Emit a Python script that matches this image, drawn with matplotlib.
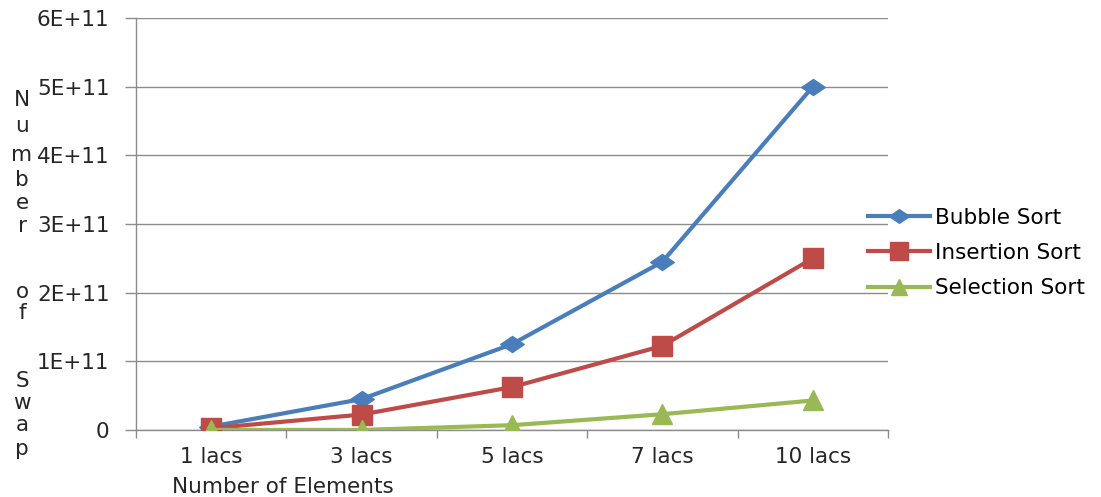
import matplotlib
matplotlib.use("Agg")
import matplotlib.pyplot as plt
from matplotlib.path import Path
from matplotlib.ticker import FuncFormatter, FixedLocator

# Swap counts for each sorting algorithm
categories = ["1 lacs", "3 lacs", "5 lacs", "7 lacs", "10 lacs"]
bubble_sort = [5.0e9, 4.5e10, 1.25e11, 2.45e11, 5.0e11]
insertion_sort = [2.5e9, 2.25e10, 6.25e10, 1.225e11, 2.5e11]
selection_sort = [1.0e8, 1.0e8, 7.0e9, 2.3e10, 4.3e10]
y_ticks = [0, 1e11, 2e11, 3e11, 4e11, 5e11, 6e11]

plt.rcParams["font.family"] = ["DejaVu Sans"]
FS = 15.5
TXT = "#262626"
GRID = "#8c8c8c"

fig = plt.figure(figsize=(11.01, 4.97), dpi=100)
ax = fig.add_axes([136 / 1101, 1 - 430 / 497, 752 / 1101, 412 / 497])

# a slightly flattened diamond marker
wide_diamond = Path([(-1, 0), (0, 0.68), (1, 0), (0, -0.68), (-1, 0)],
                    [Path.MOVETO, Path.LINETO, Path.LINETO, Path.LINETO, Path.CLOSEPOLY])

x = list(range(len(categories)))
blue, red, green = "#4A7EBB", "#BE4B48", "#98B954"
ax.plot(x, bubble_sort, color=blue, lw=3, marker=wide_diamond, ms=17,
        label="Bubble Sort", zorder=3)
ax.plot(x, insertion_sort, color=red, lw=3, marker="s", ms=14.5,
        label="Insertion Sort", zorder=3)
ax.plot(x, selection_sort, color=green, lw=3, marker="^", ms=14,
        label="Selection Sort", zorder=4)

ax.set_xlim(-0.5, len(categories) - 0.5)
ax.set_ylim(0, 6e11)
ax.set_xticks(x)
ax.set_xticklabels(categories)
ax.xaxis.set_minor_locator(FixedLocator([i - 0.5 for i in range(len(categories) + 1)]))
ax.tick_params(axis="x", which="major", length=0, pad=12, labelsize=FS, colors=TXT)
ax.tick_params(axis="x", which="minor", length=6, width=1, color=GRID, direction="out")

ax.set_yticks(y_ticks)
ax.yaxis.set_major_formatter(FuncFormatter(
    lambda v, p: "0" if v == 0 else f"{int(round(v / 1e11))}E+11"))
ax.tick_params(axis="y", length=8, width=1, color=GRID, pad=11,
               labelsize=FS, labelcolor=TXT)

ax.grid(axis="y", color=GRID, lw=1)
ax.set_axisbelow(True)
for side in ("top", "right"):
    ax.spines[side].set_visible(False)
for side in ("left", "bottom"):
    ax.spines[side].set_color(GRID)
    ax.spines[side].set_linewidth(1)

# Vertical, letter-by-letter y-axis title
letters = ["N", "u", "m", "b", "e", "r", "o", "f", "S", "w", "a", "p"]
letter_y = [100, 126, 155, 180, 203, 226, 292, 313, 381, 403, 425, 449]
for ch, yp in zip(letters, letter_y):
    fig.text(22 / 1101, 1 - yp / 497, ch, ha="center", va="center",
             fontsize=FS, color=TXT)

fig.text(283 / 1101, 1 - 487 / 497, "Number of Elements", ha="center",
         va="center", fontsize=FS, color=TXT)

ax.legend(loc="center left", bbox_to_anchor=(868 / 1101, 1 - 253 / 497),
          bbox_transform=fig.transFigure, frameon=False, fontsize=FS,
          handlelength=2.9, handletextpad=0.2, labelspacing=0.72,
          borderpad=0, borderaxespad=0, markerscale=0.85)

fig.savefig("out.png", dpi=100, facecolor="white")
